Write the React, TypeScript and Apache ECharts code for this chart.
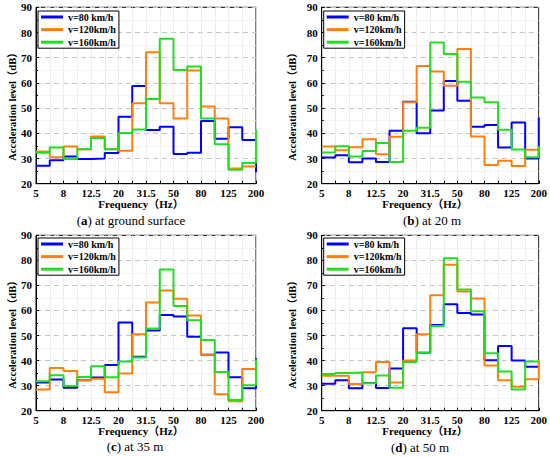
import React, { useEffect, useRef } from "react";
import * as echarts from "echarts";

const freqs = ["5", "6.3", "8", "10", "12.5", "16", "20", "25", "31.5", "40", "50", "63", "80", "100", "125", "160", "200"];
const seriesNames = ["v=80 km/h", "v=120km/h", "v=160km/h"];
const colors = ["#0000ff", "#ff7f0e", "#22dd22"];
const yTicks = { min: 20, max: 90, interval: 10 };

// (a) at ground surface
const aV80 = [27.1, 29.3, 30.8, 29.8, 30.0, 32.2, 46.6, 58.8, 41.3, 42.6, 31.8, 32.3, 44.9, 37.8, 42.4, 37.3, 24.5];
const aV120 = [32.8, 30.5, 34.8, 33.7, 38.7, 33.7, 33.1, 51.9, 72.2, 51.9, 45.9, 64.9, 50.6, 45.9, 26.0, 26.8, 26.8];
const aV160 = [32.3, 34.4, 29.8, 33.7, 38.1, 33.7, 40.1, 41.5, 53.6, 77.5, 65.1, 66.5, 45.9, 35.7, 25.5, 28.2, 41.5];
// (b) at 20 m
const bV80 = [30.4, 31.3, 28.5, 30.0, 28.6, 41.0, 52.5, 40.0, 49.0, 60.8, 52.9, 42.6, 43.3, 34.4, 44.3, 30.0, 46.3];
const bV120 = [34.8, 33.3, 34.5, 37.6, 31.7, 38.6, 52.3, 66.7, 64.5, 58.9, 73.5, 38.7, 27.4, 29.1, 27.0, 33.5, 33.5];
const bV160 = [32.4, 34.9, 30.8, 33.0, 36.2, 28.6, 41.0, 42.2, 76.0, 71.5, 60.5, 54.2, 52.3, 41.4, 33.6, 30.5, 35.0];
// (c) at 35 m
const cV80 = [31.3, 32.5, 29.2, 32.2, 33.2, 38.2, 55.2, 41.5, 52.0, 58.2, 57.6, 49.5, 42.3, 43.2, 33.3, 29.0, 41.0];
const cV120 = [28.5, 37.0, 35.8, 32.2, 32.8, 27.4, 34.8, 50.5, 63.2, 68.0, 64.7, 58.0, 42.3, 26.6, 23.8, 36.6, 36.6];
const cV160 = [31.8, 34.1, 29.9, 33.4, 37.7, 33.3, 39.6, 41.2, 52.8, 76.4, 61.8, 56.1, 48.2, 35.4, 24.3, 30.2, 40.5];
// (d) at 50 m
const dV80 = [30.8, 32.2, 29.0, 31.1, 29.1, 36.8, 52.9, 43.1, 54.2, 62.5, 59.0, 58.4, 40.1, 45.8, 40.0, 37.5, 37.5];
const dV120 = [33.9, 33.9, 30.7, 35.3, 39.4, 31.3, 40.0, 50.5, 66.1, 78.2, 67.6, 64.8, 38.0, 32.2, 29.6, 32.6, 40.0];
const dV160 = [34.6, 35.0, 35.2, 31.0, 34.0, 29.2, 39.4, 43.1, 53.8, 80.8, 68.4, 59.7, 42.9, 35.6, 28.5, 39.6, 39.6];

const panelLetters = ["a", "b", "c", "d"];
const panelCaptions = [" at ground surface", " at 20 m", " at 35 m", " at 50 m"];
const panelData = [
  [aV80, aV120, aV160],
  [bV80, bV120, bV160],
  [cV80, cV120, cV160],
  [dV80, dV120, dV160],
];
const xName = "Frequency（Hz）";
const yName = "Acceleration level（dB）";

const SERIF = "'Liberation Serif', 'Times New Roman', 'Noto Sans CJK SC', serif";

// layout (pixels)
const grids = [
  { left: 36, top: 7.3, width: 220, height: 176.4 },
  { left: 321.7, top: 7.3, width: 219, height: 176.4 },
  { left: 36, top: 235.3, width: 220, height: 175.4 },
  { left: 321.7, top: 235.3, width: 219, height: 175.4 },
];
const xNamePos = [[141, 204], [425, 204], [141, 431], [425, 431]];
const yNamePos = [[12, 104], [292, 104], [12, 332], [292, 332]];
const captionPos = [[131, 220], [432, 220], [135, 446], [420, 447]];

export default function App() {
  const ref = useRef<HTMLDivElement>(null);
  useEffect(() => {
    if (!ref.current) return;
    const chart = echarts.init(ref.current, null, { renderer: "svg" });

    const grid: any[] = [];
    const xAxis: any[] = [];
    const yAxis: any[] = [];
    const series: any[] = [];
    const legend: any[] = [];
    const graphic: any[] = [];

    grids.forEach((g, i) => {
      grid.push({ ...g, show: true, borderColor: "#000", borderWidth: 1, backgroundColor: "#fff" });
      xAxis.push({
        gridIndex: i,
        type: "category",
        data: freqs,
        boundaryGap: false,
        axisLine: { lineStyle: { color: "#000", width: 1 } },
        axisTick: { show: true, inside: true, length: 3, interval: 0, lineStyle: { color: "#000" } },
        axisLabel: {
          interval: 1,
          margin: 4,
          color: "#000",
          fontFamily: SERIF,
          fontWeight: "bold",
          fontSize: 11,
        },
        splitLine: { show: true, interval: 0, lineStyle: { color: "#e8e8e8", width: 0.8 } },
      });
      yAxis.push({
        gridIndex: i,
        type: "value",
        min: yTicks.min,
        max: yTicks.max,
        interval: yTicks.interval,
        axisLine: { show: true, lineStyle: { color: "#000", width: 1 } },
        axisTick: { show: true, inside: true, length: 3, lineStyle: { color: "#000" } },
        minorTick: { show: true, splitNumber: 2, length: 2, lineStyle: { color: "#000" } },
        axisLabel: {
          margin: 4,
          color: "#000",
          fontFamily: SERIF,
          fontWeight: "bold",
          fontSize: 11,
        },
        splitLine: { show: true, lineStyle: { color: "#c4c4c4", width: 1, type: [5, 4] } },
        minorSplitLine: { show: true, lineStyle: { color: "#efefef", width: 0.8 } },
      });
      panelData[i].forEach((vals, k) => {
        series.push({
          name: seriesNames[k],
          type: "line",
          xAxisIndex: i,
          yAxisIndex: i,
          data: vals,
          step: "end",
          symbol: "none",
          showSymbol: false,
          lineStyle: { color: colors[k], width: 2 },
          itemStyle: { color: colors[k] },
          z: 3 + k,
        });
      });
      legend.push({
        left: g.left + 2,
        top: g.top + (i < 2 ? 3.7 : 2.7),
        orient: "vertical",
        data: seriesNames,
        icon: "rect",
        itemWidth: 22,
        itemHeight: 3,
        itemGap: 2.6,
        padding: [1, 3, 1, 3],
        borderColor: "#000",
        borderWidth: 1,
        backgroundColor: "#fff",
        selectedMode: false,
        textStyle: {
          fontFamily: SERIF,
          fontWeight: "bold",
          fontSize: 10,
          lineHeight: 10,
          color: "#000",
        },
      });
      graphic.push({
        type: "text",
        x: xNamePos[i][0],
        y: xNamePos[i][1],
        style: {
          text: xName,
          fontFamily: SERIF,
          fontWeight: "bold",
          fontSize: 11,
          fill: "#000",
          align: "center",
          verticalAlign: "middle",
        },
      });
      graphic.push({
        type: "text",
        x: yNamePos[i][0],
        y: yNamePos[i][1],
        rotation: Math.PI / 2,
        style: {
          text: yName,
          fontFamily: SERIF,
          fontWeight: "bold",
          fontSize: 10.5,
          fill: "#000",
          align: "center",
          verticalAlign: "middle",
        },
      });
      graphic.push({
        type: "text",
        x: captionPos[i][0],
        y: captionPos[i][1],
        style: {
          text: "({b|" + panelLetters[i] + "})" + panelCaptions[i],
          fontFamily: SERIF,
          fontSize: 13,
          fill: "#000",
          align: "center",
          verticalAlign: "middle",
          rich: {
            b: { fontFamily: SERIF, fontSize: 13, fontWeight: "bold", fill: "#000" },
          },
        },
      });
    });

    chart.setOption({
      animation: false,
      backgroundColor: "#fff",
      grid,
      xAxis,
      yAxis,
      series,
      legend,
      graphic,
    });
    return () => chart.dispose();
  }, []);
  return (
    <div
      ref={ref}
      style={{ position: "fixed", left: 0, top: 0, width: 550, height: 457 }}
    />
  );
}
